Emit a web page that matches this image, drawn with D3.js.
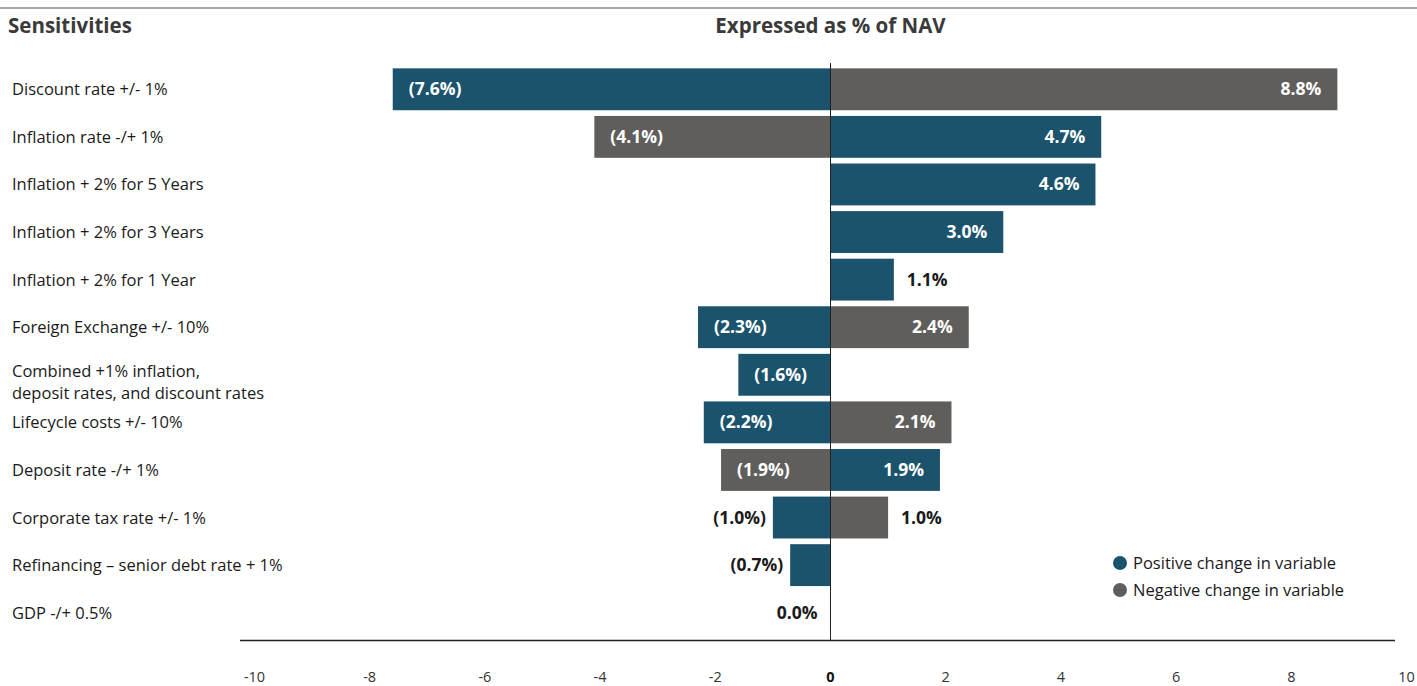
<!DOCTYPE html>
<html>
<head>
<meta charset="utf-8">
<script src="https://cdn.jsdelivr.net/npm/d3@7"></script>
<style>
  body { margin: 0; background: #fff; font-family: "Open Sans", sans-serif; }
  .row-label { font-size: 16.5px; fill: #1a1a1a; }
  .val-label { font-size: 17.5px; font-weight: 700; }
  .tick-label { font-size: 14.5px; fill: #333; }
  .header { font-size: 20.5px; font-weight: 700; fill: #3a3a3a; }
  .legend-text { font-size: 16.5px; fill: #1a1a1a; }
</style>
</head>
<body>
<div id="chart"></div>
<script>
const categories = [
  "Discount rate +/- 1%",
  "Inflation rate -/+ 1%",
  "Inflation + 2% for 5 Years",
  "Inflation + 2% for 3 Years",
  "Inflation + 2% for 1 Year",
  "Foreign Exchange +/- 10%",
  "Combined +1% inflation,|deposit rates, and discount rates",
  "Lifecycle costs +/- 10%",
  "Deposit rate -/+ 1%",
  "Corporate tax rate +/- 1%",
  "Refinancing \u2013 senior debt rate + 1%",
  "GDP -/+ 0.5%"
];
// positive change in variable (blue); null = no bar
const positiveChange = [-7.6, 4.7, 4.6, 3.0, 1.1, -2.3, -1.6, -2.2, 1.9, -1.0, -0.7, 0.0];
// negative change in variable (grey)
const negativeChange = [8.8, -4.1, null, null, null, 2.4, null, 2.1, -1.9, 1.0, null, null];
const xTicks = [-10, -8, -6, -4, -2, 0, 2, 4, 6, 8, 10];

const blue = "#1b536d";
const grey = "#5f5e5c";

const width = 1417, height = 686;
const svg = d3.select("#chart").append("svg").attr("width", width).attr("height", height);

const x = d3.scaleLinear().domain([-10, 10]).range([254.5, 1406.5]);
const y = d3.scaleBand().domain(d3.range(categories.length)).range([65.5, 636.5]).paddingInner(0.12).paddingOuter(0.06);

// top rule
svg.append("line").attr("x1", 0).attr("x2", width).attr("y1", 8).attr("y2", 8).attr("stroke", "#8a8a8a").attr("stroke-width", 1.5);

svg.append("text").attr("class", "header").attr("x", 8).attr("y", 33).text("Sensitivities");
svg.append("text").attr("class", "header").attr("x", x(0)).attr("y", 33).attr("text-anchor", "middle").text("Expressed as % of NAV");

// row labels (two-line labels written as separate texts)
categories.forEach((c, i) => {
  const lines = c.split("|");
  const y0 = y(i) + y.bandwidth() / 2 + 6 - (lines.length > 1 ? 4 : 0);
  lines.forEach((l, j) => {
    svg.append("text").attr("class", "row-label").attr("x", 12).attr("y", y0 + j * 22).text(l);
  });
});

const bars = [];
positiveChange.forEach((v, i) => { if (v !== null) bars.push({ i, v, color: blue }); });
negativeChange.forEach((v, i) => { if (v !== null) bars.push({ i, v, color: grey }); });

svg.selectAll("rect.bar").data(bars.filter(d => d.v !== 0)).enter().append("rect")
  .attr("class", "bar")
  .attr("x", d => x(Math.min(0, d.v)))
  .attr("y", d => y(d.i))
  .attr("width", d => Math.abs(x(d.v) - x(0)))
  .attr("height", y.bandwidth())
  .attr("fill", d => d.color);

const fmt = v => v < 0 ? `(${Math.abs(v).toFixed(1)}%)` : `${v.toFixed(1)}%`;
const inside = d => Math.abs(d.v) >= 1.5;

svg.selectAll("text.val").data(bars).enter().append("text")
  .attr("class", "val-label")
  .attr("y", d => y(d.i) + y.bandwidth() / 2 + 6)
  .attr("x", d => {
    if (d.v === 0) return x(0) - 13;
    if (d.v < 0) return inside(d) ? x(d.v) + 16 : x(d.v) - 7;
    return inside(d) ? x(d.v) - 16 : x(d.v) + 13;
  })
  .attr("text-anchor", d => {
    if (d.v <= 0) return inside(d) ? "start" : "end";
    return inside(d) ? "end" : "start";
  })
  .attr("fill", d => inside(d) ? "#fff" : "#1a1a1a")
  .text(d => d.v === 0 ? "0.0%" : fmt(d.v));

// zero line
svg.append("line").attr("x1", x(0)).attr("x2", x(0)).attr("y1", 63).attr("y2", 640).attr("stroke", "#222").attr("stroke-width", 1);

// axis line
svg.append("line").attr("x1", 240).attr("x2", 1395).attr("y1", 640.5).attr("y2", 640.5).attr("stroke", "#222").attr("stroke-width", 1.5);

svg.selectAll("text.tick").data(xTicks).enter().append("text")
  .attr("class", "tick-label")
  .attr("x", d => x(d))
  .attr("y", 682)
  .attr("text-anchor", "middle")
  .style("font-weight", d => d === 0 ? 700 : 400)
  .style("fill", d => d === 0 ? "#111" : "#333")
  .text(d => d);

// legend
const legend = [
  { label: "Positive change in variable", color: blue },
  { label: "Negative change in variable", color: grey }
];
legend.forEach((l, i) => {
  const ly = 563 + i * 27;
  svg.append("circle").attr("cx", 1120).attr("cy", ly).attr("r", 7).attr("fill", l.color);
  svg.append("text").attr("class", "legend-text").attr("x", 1133).attr("y", ly + 6).text(l.label);
});
</script>
</body>
</html>
